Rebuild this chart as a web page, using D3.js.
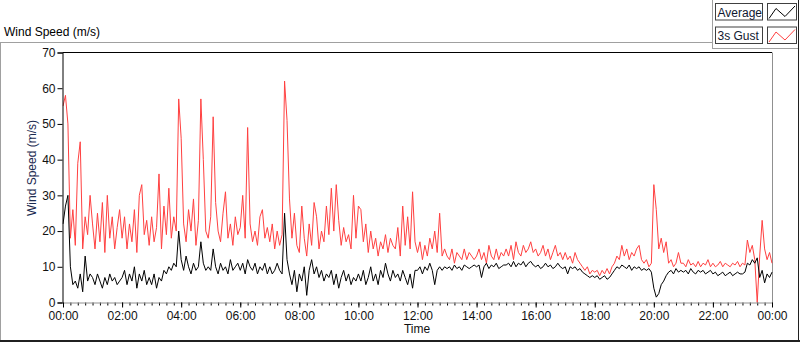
<!DOCTYPE html>
<html><head><meta charset="utf-8">
<script src="https://cdn.jsdelivr.net/npm/d3@7"></script>
<style>html,body{margin:0;padding:0;background:#fff;}svg{display:block;}</style>
</head><body>
<svg id="c" width="800" height="342"></svg>
<script>
// 5-minute samples, 00:00 .. 24:00 (m/s)
const gust = [
55,58,50,18,26,16,39,45,15,24,19,30,
22,15,25,17,28,14,30,18,24,15,21,26,
18,24,15,22,17,26,14,30,33,19,23,16,
24,17,21,36,15,27,19,32,18,24,20,57,
46,22,17,26,20,29,16,23,57,40,20,18,
24,52,28,20,17,25,31,18,22,16,24,19,
21,30,18,49,22,17,20,16,24,26,18,21,
17,22,15,20,16,19,62,51,29,18,25,16,
14,27,18,13,22,16,28,24,15,20,17,27,
19,32,20,33,23,16,21,17,19,15,30,18,
27,26,17,22,14,20,15,18,13,17,15,19,
14,18,16,15,21,13,27,16,24,15,31,17,
14,17,12,16,13,18,15,20,14,25,13,15,
13,12,15,11,14,13,12,15,12,14,13,12,
13,15,12,14,11,16,13,12,15,12,14,13,
15,13,16,12,17,14,13,16,14,15,17,14,
15,13,14,16,13,15,12,14,16,13,14,12,
14,12,13,11,14,12,11,10,9,10,8,9,
8.5,9,7.5,9,8,9.5,8,10,11,13,12,16,
13,15,12,14,13,15,16,12,11,12,10,11,
33,26,15,18,14,17,11,12,10,11,14,11,
11,10,12,10.5,11,10,11.5,10,11,10.5,12,10,
11,10,10.5,11.5,10,11,10.5,10,11,10.5,11.5,10,
11,10.5,17.5,14,16,12,0,13,23,15,12,14,
11
];
const average = [
22,27,30,10,5,6,4,8,3,13,6,8,
7,5,8,6,4,7,5,8,6,7,5,6,
7,9,5,8,6,10,4,8,6,9,5,7,
5,8,4,7,6,9,8,10,9,11,10,20,
12,9,13,10,8,11,9,10,17,11,9,10,
9,15,10,8,11,9,10,8,12,9,10,11,
9,11,8,12,10,9,11,8,10,9,11,8,
10,8,9,11,9,8,25,12,8,5,9,3,
8,6,10,2,9,12,8,10,7,9,6,8,
7,9,5,8,4,7,9,6,8,5,7,6,
8,6,9,5,7,10,6,8,5,9,7,11,
8,6,9,7,8,6,9,7,5,8,4,9,
9,10,8,10,9,11,9,5,9,10,9,10,
9.5,10,9,10.5,9.5,10,9,10.5,10,9.5,10,10.5,
10,10.5,7,10,11,9.5,10.5,10,11,9.5,10,10.5,
10.5,11,10,11.5,10,11,10.5,11.5,10,11,11.5,10.5,
10,10.5,9.5,10,11,10,10.5,9.5,10,11,10,9.5,
10,8,10,9.5,10,9,9.5,8.5,8,7.5,7,7.5,
7,7.5,6.5,7,7.5,6.5,7,8,9,10,9.5,10.5,
10,9.5,10.5,9,10,9.5,10,9,9.5,9,9.5,8.5,
4,1.5,2.5,5,6,7.5,8.5,9,8,9.5,8.5,9,
8.5,9,8,9.5,8.5,8,9,8.5,9,8,8.5,9,
8,8.5,7.5,8,8.5,7.5,8,8.5,7.5,8,8.5,8,
8,8.5,11,10.5,12,11,12.5,7,9,5.5,8,7,
8.5
];
const stepMinutes = 5;
const yTicks = [0,10,20,30,40,50,60,70];
const xMajorTicks = [0,120,240,360,480,600,720,840,960,1080,1200,1320,1440];
const seriesNames = ["Average","3s Gust"];
const seriesColors = ["#000000","#ff4040"];

const svg = d3.select("#c");
const FONT = "'Liberation Sans', Arial, sans-serif";
const L = 63, R = 772, T = 52.5, B = 302.5;

const x = d3.scaleLinear().domain([0,1440]).range([L,R]);
const y = d3.scaleLinear().domain([0,70]).range([B,T]);

// outer frame
svg.append("rect").attr("width",800).attr("height",342).attr("fill","#fff");
svg.append("line").attr("x1",0).attr("x2",712).attr("y1",42.5).attr("y2",42.5).attr("stroke","#a0a0a0");
svg.append("line").attr("x1",0.5).attr("x2",0.5).attr("y1",42).attr("y2",342).attr("stroke","#a0a0a0");
svg.append("line").attr("x1",0).attr("x2",800).attr("y1",341).attr("y2",341).attr("stroke","#202020").attr("stroke-width",2);
svg.append("line").attr("x1",798.5).attr("x2",798.5).attr("y1",0).attr("y2",342).attr("stroke","#202020");
// legend panel edges
svg.append("line").attr("x1",712.5).attr("x2",712.5).attr("y1",0).attr("y2",49).attr("stroke","#a0a0a0");
svg.append("line").attr("x1",712).attr("x2",798).attr("y1",48.5).attr("y2",48.5).attr("stroke","#a0a0a0");

svg.append("text").attr("x",4).attr("y",36).attr("font-family",FONT).attr("font-size",12)
  .attr("fill","#000").text("Wind Speed (m/s)");

// plot area frame
svg.append("rect").attr("x",62.5).attr("y",T).attr("width",R-62.5).attr("height",B-T).attr("fill","#fff");
svg.append("line").attr("x1",62.5).attr("x2",R).attr("y1",T).attr("y2",T).attr("stroke","#000");
svg.append("line").attr("x1",R+0.5).attr("x2",R+0.5).attr("y1",T).attr("y2",B).attr("stroke","#909090");

// clip
svg.append("clipPath").attr("id","clip").append("rect")
  .attr("x",62.5).attr("y",T).attr("width",R-62.5+1).attr("height",B-T+1);

const line = d3.line().x((d,i)=>x(i*stepMinutes)).y(d=>y(d));
const g = svg.append("g").attr("clip-path","url(#clip)");
g.append("path").datum(gust).attr("d",line).attr("fill","none").attr("stroke",seriesColors[1]).attr("stroke-width",1);
g.append("path").datum(average).attr("d",line).attr("fill","none").attr("stroke",seriesColors[0]).attr("stroke-width",1);

// y axis
const yAxis = svg.append("g").attr("transform","translate(62.5,0)")
  .call(d3.axisLeft(y).tickValues(yTicks).tickSize(5).tickPadding(2).tickFormat(d3.format("d")));
yAxis.select(".domain").attr("stroke","#000");
yAxis.selectAll(".tick line").attr("stroke","#000");
yAxis.selectAll("text").attr("font-family",FONT).attr("font-size",12).attr("fill","#111");

// x axis
const fmt = m => { const h = Math.floor(m/60)%24, mm = m%60; return String(h).padStart(2,"0")+":"+String(mm).padStart(2,"0"); };
const xMinor = svg.append("g").attr("transform",`translate(0,${B})`)
  .call(d3.axisBottom(x).tickValues(d3.range(0,1441,15)).tickSize(3).tickFormat(""));
xMinor.select(".domain").remove();
xMinor.selectAll(".tick line").attr("stroke","#000");
const xAxis = svg.append("g").attr("transform",`translate(0,${B})`)
  .call(d3.axisBottom(x).tickValues(xMajorTicks).tickSize(5).tickPadding(4).tickFormat(fmt));
xAxis.select(".domain").attr("stroke","#909090").attr("d",`M62.5,0.5H${R+1}`);
xAxis.selectAll(".tick line").attr("stroke","#000");
xAxis.selectAll("text").attr("font-family",FONT).attr("font-size",12).attr("fill","#111");

// axis titles
svg.append("text").attr("x",417).attr("y",333).attr("text-anchor","middle")
  .attr("font-family",FONT).attr("font-size",12).attr("fill","#111").text("Time");
svg.append("text").attr("transform","translate(36,168) rotate(-90)").attr("text-anchor","middle")
  .attr("font-family",FONT).attr("font-size",12).attr("fill","#1a2a50").text("Wind Speed (m/s)");

// legend
const leg = svg.append("g");
seriesNames.forEach((name,i)=>{
  const y0 = 3.5 + i*23.5;
  leg.append("rect").attr("x",715.5).attr("y",y0).attr("width",47).attr("height",16.5)
    .attr("fill","#fff").attr("stroke","#404040");
  leg.append("text").attr("x",717.5).attr("y",y0+13).attr("font-family",FONT).attr("font-size",12)
    .attr("fill","#101830").text(name);
  leg.append("rect").attr("x",767.5).attr("y",y0).attr("width",29).attr("height",16.5)
    .attr("fill","#fff").attr("stroke","#404040");
  leg.append("path").attr("d",`M769,${y0+15}L776,${y0+5}L785,${y0+13}L795,${y0+2.5}`)
    .attr("fill","none").attr("stroke",seriesColors[i]).attr("stroke-width",1);
});
</script>
</body></html>
